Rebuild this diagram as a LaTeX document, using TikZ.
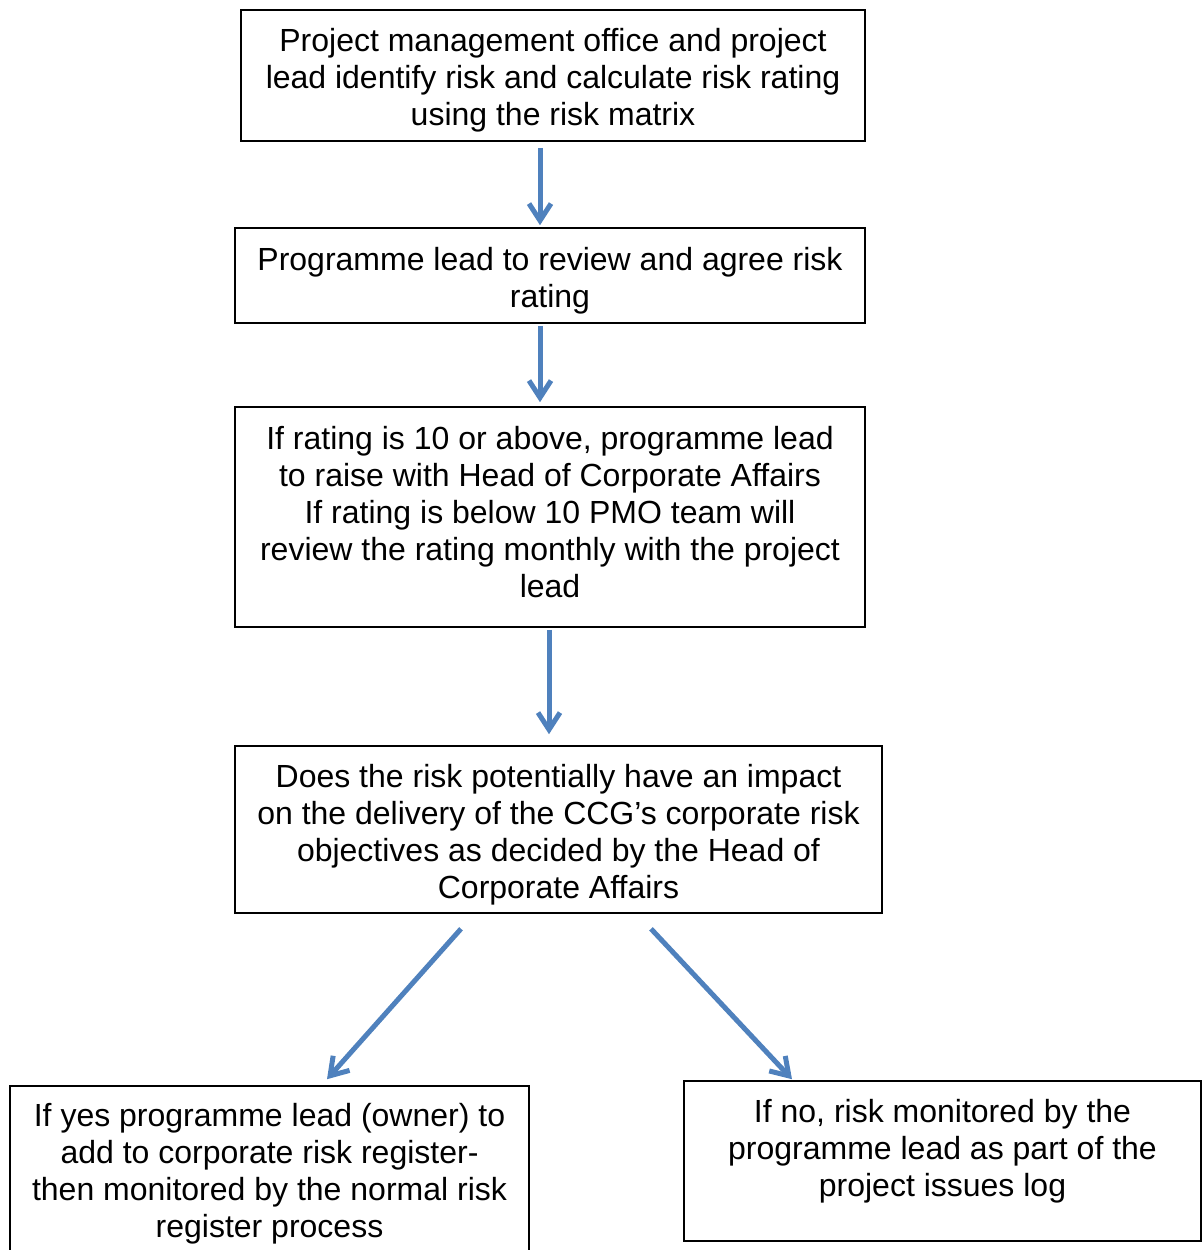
\documentclass[tikz,border=0pt]{standalone}
\usepackage{fontspec}
\setmainfont{Liberation Sans}
\usetikzlibrary{arrows.meta,calc}
\definecolor{arrblue}{HTML}{4F81BD}
\tikzset{
  box/.style={draw=black, line width=1.6pt, fill=white, align=center, inner sep=0pt,
    font=\fontsize{32}{37}\selectfont},
  arr/.style={draw=arrblue, line width=5pt,
    -{Straight Barb[length=17pt, width=22pt, line width=5pt]}}
}
\newcommand{\dn}[1]{\mbox{}\\[#1]}
\begin{document}
\begin{tikzpicture}[x=1pt,y=-1pt]
\useasboundingbox (0,0) rectangle (1202,1250);
\node[box, minimum width=624pt, minimum height=131pt] (b1) at (553,75.5)
  {\dn{-5pt}Project management office and project\\lead identify risk and calculate risk rating\\using the risk matrix};
\node[box, minimum width=630pt, minimum height=95pt] (b2) at (550,275.5)
  {\dn{-3pt}Programme lead to review and agree risk\\rating};
\node[box, minimum width=630pt, minimum height=220pt] (b3) at (550,517)
  {If rating is 10 or above, programme lead\\to raise with Head of Corporate Affairs\\If rating is below 10 PMO team will\\review the rating monthly with the project\\lead\\[-26pt]\mbox{}};
\node[box, minimum width=647pt, minimum height=167pt] (b4) at (558.5,829.5)
  {\dn{-3pt}Does the risk potentially have an impact\\on the delivery of the CCG’s corporate risk\\objectives as decided by the Head of\\Corporate Affairs};
\node[box, minimum width=519pt, minimum height=172pt] (b5) at (269.5,1172)
  {If yes programme lead (owner) to\\add to corporate risk register-\\then monitored by the normal risk\\register process\\[-34pt]\mbox{}};
\node[box, minimum width=517pt, minimum height=160pt] (b6) at (942.5,1161)
  {If no, risk monitored by the\\programme lead as part of the\\project issues log\\[-11pt]\mbox{}};
\draw[arr] ($(b1.south)+(-13,6)$) -- ($(b2.north)+(-10,-2)$);
\draw[arr] ($(b2.south)+(-10,2)$) -- ($(b3.north)+(-10,-4)$);
\draw[arr] ($(b3.south)+(-1,2)$) -- ($(b4.north)+(-9.5,-11)$);
\draw[arr] ($(b4.south)+(-97.5,15)$) -- ($(b5.north)+(57.5,-6)$);
\draw[arr] ($(b4.south)+(92.5,15)$) -- ($(b6.north)+(-150.5,-1)$);
\end{tikzpicture}
\end{document}
